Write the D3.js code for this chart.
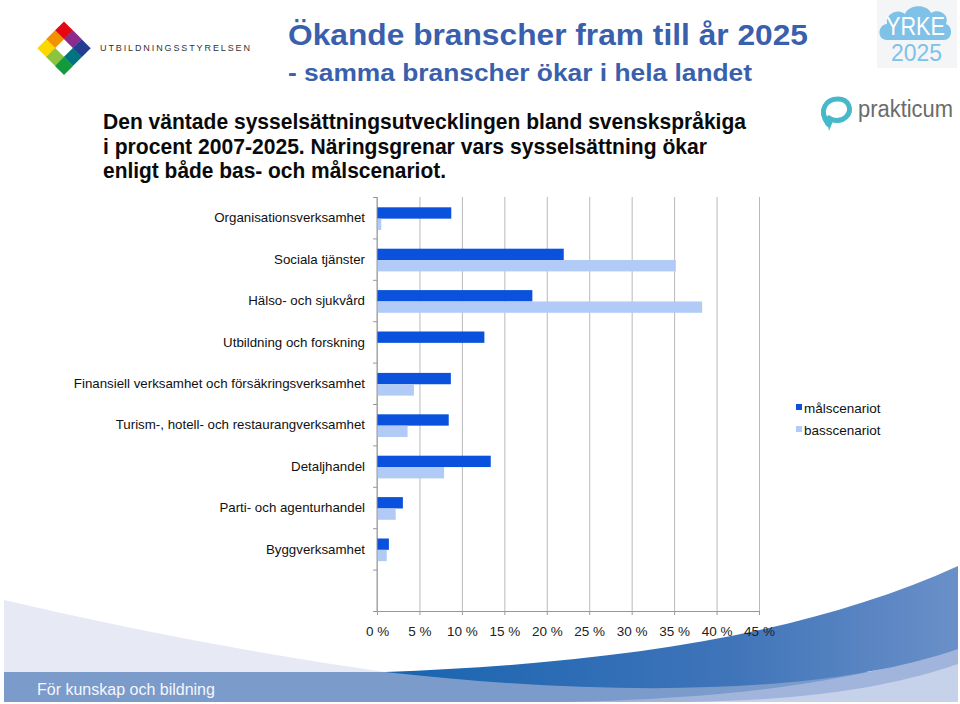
<!DOCTYPE html>
<html>
<head>
<meta charset="utf-8">
<script src="https://cdn.jsdelivr.net/npm/d3@7"></script>
<style>
  html, body { margin: 0; padding: 0; background: #fff; }
  svg { display: block; }
  text { font-family: "Liberation Sans", Arial, sans-serif; }
</style>
</head>
<body>
<script>
// ---- data ----
const categories = [
  "Organisationsverksamhet",
  "Sociala tjänster",
  "Hälso- och sjukvård",
  "Utbildning och forskning",
  "Finansiell verksamhet och försäkringsverksamhet",
  "Turism-, hotell- och restaurangverksamhet",
  "Detaljhandel",
  "Parti- och agenturhandel",
  "Byggverksamhet"
];
const seriesNames = ["målscenariot", "basscenariot"];
const malscenariot = [8.75, 22.0, 18.3, 12.65, 8.7, 8.45, 13.4, 3.05, 1.4];
const basscenariot = [0.5, 35.2, 38.3, 0, 4.35, 3.6, 7.9, 2.2, 1.15];
const xTicks = [0, 5, 10, 15, 20, 25, 30, 35, 40, 45];

const titleText = "Ökande branscher fram till år 2025";
const subTitleText = "- samma branscher ökar i hela landet";
const descLines = [
  "Den väntade sysselsättningsutvecklingen bland svenskspråkiga",
  "i procent 2007-2025. Näringsgrenar vars sysselsättning ökar",
  "enligt både bas- och målscenariot."
];
const footerText = "För kunskap och bildning";

// ---- canvas ----
const W = 960, H = 704;
const svg = d3.select("body").append("svg").attr("width", W).attr("height", H);

const defs = svg.append("defs");
const g1 = defs.append("linearGradient").attr("id", "swoosh").attr("x1", "0").attr("x2", "1").attr("y1", "0").attr("y2", "0");
g1.append("stop").attr("offset", "0").attr("stop-color", "#1864b0");
g1.append("stop").attr("offset", "0.6").attr("stop-color", "#3f74b9");
g1.append("stop").attr("offset", "1").attr("stop-color", "#6a90c8");

// ---- footer decoration ----
const deco = svg.append("g");
deco.append("path").attr("d", "M4,600 Q200,646 392,673 L4,673 Z").attr("fill", "#e7eaf5");
deco.append("rect").attr("x", 4).attr("y", 672).attr("width", 954).attr("height", 30).attr("fill", "#7b9bcb");
deco.append("path").attr("d", "M560,702 C760,698 880,676 958,645 L958,702 Z").attr("fill", "#a1b5dc");
deco.append("path").attr("d", "M690,702 C820,700 900,684 958,664 L958,702 Z").attr("fill", "#c6d1ea");
deco.append("path")
  .attr("d", "M385,672 C600,664 800,638 958,566 L958,649 C820,697 600,696 385,672 Z")
  .attr("fill", "url(#swoosh)");
deco.append("text").attr("x", 37).attr("y", 695).attr("font-size", 16).attr("fill", "#f4f7fc").text(footerText);

// ---- header ----
svg.append("text").attr("x", 288).attr("y", 45).attr("font-size", 30).attr("font-weight", "bold")
  .attr("fill", "#3a5fac").attr("textLength", 520).attr("lengthAdjust", "spacingAndGlyphs").text(titleText);
svg.append("text").attr("x", 288).attr("y", 81).attr("font-size", 23.5).attr("font-weight", "bold")
  .attr("fill", "#3a5fac").attr("textLength", 464).attr("lengthAdjust", "spacingAndGlyphs").text(subTitleText);

const descWidths = [643, 604, 343];
descLines.forEach((t, i) => {
  svg.append("text").attr("x", 103).attr("y", 129 + i * 24.5).attr("font-size", 21.5).attr("font-weight", "bold")
    .attr("fill", "#0a0a0a").attr("textLength", descWidths[i]).attr("lengthAdjust", "spacingAndGlyphs").text(t);
});

// Utbildningsstyrelsen logo
const logo = svg.append("g").attr("transform", "translate(64,48) rotate(45)");
const cell = 12.5;
const logoColors = [
  ["#e30613", "#8b2c8c", "#233d92"],
  ["#f39200", "#ffffff", "#00757f"],
  ["#fdd800", "#8cc43f", "#129a3c"]
];
logoColors.forEach((row, r) => row.forEach((c, k) => {
  logo.append("rect").attr("x", (k - 1.5) * cell).attr("y", (r - 1.5) * cell)
    .attr("width", cell + 0.3).attr("height", cell + 0.3).attr("fill", c);
}));
svg.append("text").attr("x", 100).attr("y", 51).attr("font-size", 9).attr("fill", "#333")
  .attr("textLength", 150).attr("lengthAdjust", "spacing").text("UTBILDNINGSSTYRELSEN");

// YRKE 2025 logo
const yrke = svg.append("g");
yrke.append("rect").attr("x", 877).attr("y", 0).attr("width", 80).attr("height", 68).attr("fill", "#f4f5f7");
yrke.append("path")
  .attr("d", "M887,40 C877,40 877,25 887,24 C885,13 899,8 905,14 C909,4 927,4 931,13 C939,8 950,15 946,24 C954,27 952,40 944,40 Z")
  .attr("fill", "#80c1e7");
yrke.append("text").attr("x", 886).attr("y", 35).attr("font-size", 25)
  .attr("fill", "#fff").attr("font-family", "'Open Sans', sans-serif")
  .attr("textLength", 59).attr("lengthAdjust", "spacingAndGlyphs").text("YRKE");
yrke.append("text").attr("x", 891).attr("y", 61).attr("font-size", 24)
  .attr("fill", "#80c1e7").attr("font-family", "'Open Sans', sans-serif")
  .attr("textLength", 51).attr("lengthAdjust", "spacingAndGlyphs").text("2025");

// prakticum logo
const pr = svg.append("g");
pr.append("path")
  .attr("d", "M828,124 C818,110 826,99 838,99 C849,99 853,110 846,117 C841,122 833,121 829,118")
  .attr("fill", "none").attr("stroke", "#45b9c9").attr("stroke-width", 5).attr("stroke-linecap", "round");
pr.append("path").attr("d", "M826,116 L829,131 L833,121 Z").attr("fill", "#45b9c9");
pr.append("text").attr("x", 858).attr("y", 117).attr("font-size", 23).attr("fill", "#6b6b6b")
  .attr("font-family", "'Open Sans', sans-serif").attr("font-weight", 300)
  .attr("textLength", 95).attr("lengthAdjust", "spacingAndGlyphs").text("prakticum");

// ---- chart ----
const x = d3.scaleLinear().domain([0, 45]).range([377, 759]);
const y = d3.scaleBand().domain(categories).range([197, 611]).paddingOuter(0.5).paddingInner(0).align(0);
const ySeries = d3.scaleBand().domain(seriesNames).range([10.3, 33]);
const colors = d3.scaleOrdinal().domain(seriesNames).range(["#0a52dd", "#b1cbf6"]);
const axisBottomY = 611;

const chart = svg.append("g");

// gridlines
chart.append("g").attr("transform", `translate(0,${axisBottomY})`)
  .call(d3.axisBottom(x).tickValues(xTicks).tickSize(-(axisBottomY - 197)).tickFormat(""))
  .call(g => g.select(".domain").remove())
  .call(g => g.selectAll("line").attr("stroke", "#b9b9b9"));

// bars
const rows = categories.map((c, i) => ({ cat: c, values: [malscenariot[i], basscenariot[i]] }));
const rowG = chart.selectAll(".row").data(rows).join("g").attr("transform", d => `translate(0,${y(d.cat)})`);
rowG.selectAll("rect").data(d => d.values.map((v, j) => ({ s: seriesNames[j], v })))
  .join("rect")
  .attr("x", x(0))
  .attr("y", d => ySeries(d.s))
  .attr("width", d => x(d.v) - x(0))
  .attr("height", ySeries.bandwidth())
  .attr("fill", d => colors(d.s));

// x axis
chart.append("g").attr("transform", `translate(0,${axisBottomY})`)
  .call(d3.axisBottom(x).tickValues(xTicks).tickSize(4).tickPadding(11).tickFormat(d => d + " %"))
  .call(g => g.select(".domain").attr("stroke", "#999").attr("d", `M${x(0) - 4},0.5H${x(45)}`))
  .call(g => g.selectAll("line").attr("stroke", "#999"))
  .call(g => g.selectAll("text").attr("font-size", 13.5).attr("fill", "#222")
    .attr("font-family", "'Liberation Sans', Arial, sans-serif"));

// y axis
const yAx = chart.append("g");
yAx.append("line").attr("x1", x(0)).attr("x2", x(0)).attr("y1", 197).attr("y2", axisBottomY).attr("stroke", "#999");
yAx.selectAll(".tk").data(categories.map(c => y(c)).concat([y(categories[categories.length - 1]) + y.step(), axisBottomY]))
  .join("line").attr("x1", x(0) - 4).attr("x2", x(0)).attr("y1", d => d + 0.5).attr("y2", d => d + 0.5).attr("stroke", "#999");
yAx.selectAll(".lbl").data(categories).join("text")
  .attr("x", 365).attr("y", d => y(d) + y.bandwidth() / 2).attr("dy", "0.35em")
  .attr("text-anchor", "end").attr("font-size", 13.3).attr("fill", "#111").text(d => d);

// legend
const leg = svg.append("g");
seriesNames.forEach((s, i) => {
  leg.append("rect").attr("x", 796).attr("y", 404 + i * 22).attr("width", 6).attr("height", 6).attr("fill", colors(s));
  leg.append("text").attr("x", 804).attr("y", 408 + i * 22).attr("dy", "0.35em").attr("font-size", 13.5)
    .attr("fill", "#111").text(s);
});
</script>
</body>
</html>
